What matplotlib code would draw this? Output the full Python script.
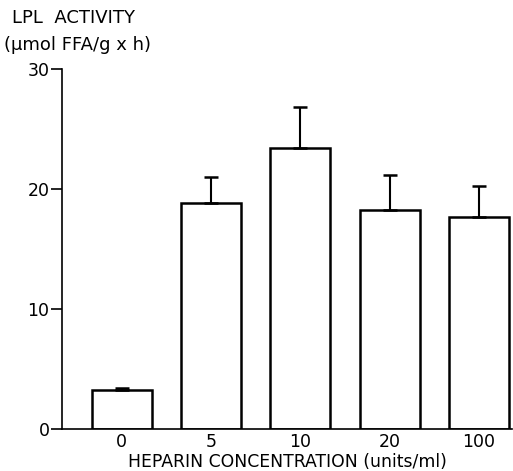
import numpy as np
import matplotlib.pyplot as plt

heparin = ["0", "5", "10", "20", "100"]
activity = [3.25, 18.8, 23.4, 18.25, 17.7]
sem = [0.2, 2.2, 3.4, 2.95, 2.55]

fig = plt.figure(figsize=(5.13, 4.71), dpi=100)
ax = fig.add_axes([62 / 513, 42 / 471, 450 / 513, 360 / 471])

x = np.arange(len(heparin))
ax.bar(x, activity, width=0.67, color="white", edgecolor="black", linewidth=1.8,
       yerr=[np.zeros(len(sem)), sem], error_kw=dict(ecolor="black", elinewidth=1.5,
                                                    capsize=5, capthick=1.8))

ax.set_xlim(-0.67, 4.37)
ax.set_ylim(0, 30)
ax.set_yticks([0, 10, 20, 30])
ax.set_xticks(x)
ax.set_xticklabels(heparin)
ax.tick_params(axis="y", direction="out", length=8, width=1.2, labelsize=12.5, pad=1)
ax.tick_params(axis="x", length=0, labelsize=12.5, pad=3)
for s in ["top", "right"]:
    ax.spines[s].set_visible(False)
ax.spines["left"].set_linewidth(1.2)
ax.spines["bottom"].set_linewidth(1.2)

ax.set_xlabel("HEPARIN CONCENTRATION (units/ml)", fontsize=12.4, labelpad=1)
fig.text(12 / 513, 1 - 18 / 471, "LPL  ACTIVITY", fontsize=13, va="center", ha="left")
fig.text(4 / 513, 1 - 45 / 471, "(\u00b5mol FFA/g x h)", fontsize=13, va="center", ha="left")

fig.savefig("out.png", dpi=100)
